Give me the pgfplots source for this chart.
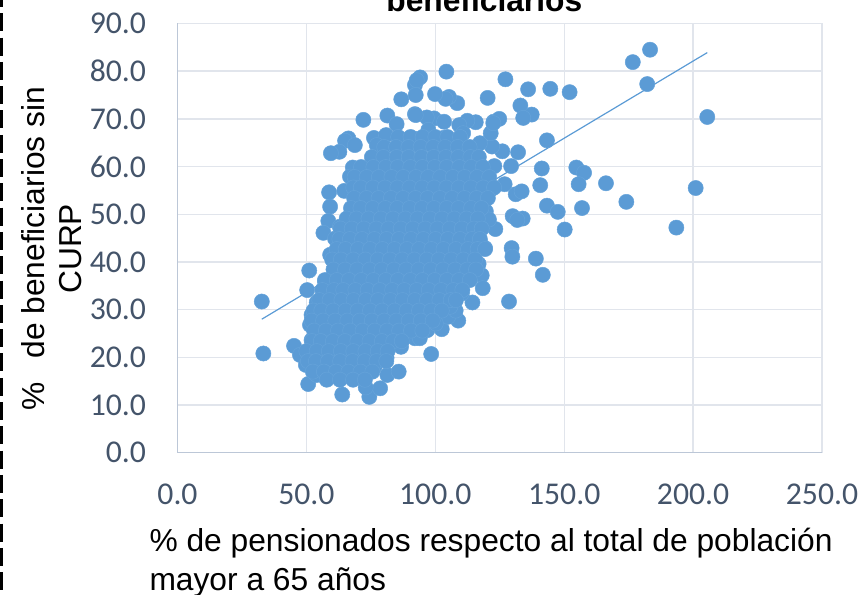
\documentclass[border=0pt]{standalone}
\usepackage{pgfplots}
\pgfplotsset{compat=1.18}
\usepackage{fontspec}
\setmainfont{Liberation Sans}
\newfontfamily\tickfont{Carlito}
\definecolor{dotblue}{HTML}{5B9BD5}
\definecolor{dotedge}{HTML}{65A3DA}
\definecolor{gridc}{HTML}{E1E5EC}
\definecolor{axisc}{HTML}{BCC7D7}
\definecolor{tickc}{HTML}{44546A}
\begin{document}
\begin{tikzpicture}[x=1pt,y=1pt]
\useasboundingbox (0,0) rectangle (861,594);
\draw[black,line width=3.4pt,dash pattern=on 18pt off 6.3pt,dash phase=11pt] (1.7,594) -- (1.7,0);
\begin{axis}[
  at={(177.5pt,141.3pt)}, anchor=south west,
  scale only axis, width=644.5pt, height=429.2pt,
  xmin=0,xmax=250,ymin=0,ymax=90,
  xtick={0,50,...,250}, ytick={0,10,...,90},
  axis x line=bottom, axis y line=left,
  axis line style={axisc,line width=1.4pt,-},
  grid=major, major grid style={gridc,line width=1.4pt},
  major tick length=0pt,
  clip=false,
  /pgf/number format/assume math mode=true,
  /pgf/number format/fixed, /pgf/number format/fixed zerofill, /pgf/number format/precision=1,
  ticklabel style={font=\tickfont\fontsize{31.7}{34}\selectfont,text=tickc},
  xticklabel style={yshift=-28pt},
  yticklabel style={xshift=-28pt},
  title={beneficiarios},
  title style={at={(axis description cs:0.476,1)},anchor=base,yshift=5.5pt,
    font=\bfseries\fontsize{31.75}{36}\selectfont},
  xlabel={\% de pensionados respecto al total de población\\mayor a 65 años},
  xlabel style={at={(axis description cs:-0.0489,0)},anchor=north west,align=left,yshift=-71.5pt,
    font=\fontsize{31.75}{39.3}\selectfont},
  ylabel={\%\hspace{24pt}de beneficiarios sin\\CURP},
  ylabel style={at={(axis description cs:-0.1955,0.475)},anchor=center,align=center,
    font=\fontsize{31.75}{37}\selectfont},
]
% trend line
\addplot[dotblue,line width=1.2pt] coordinates {(32.7,28)(205.5,83.9)};
% scatter: single outliers read off the picture, then the solid core row by row
% (the points in the core overlap too much to read one by one, positions there are estimates)
\addplot[only marks,mark=*,mark size=7.6pt,
  mark options={fill=dotblue,draw=dotedge,line width=0.5pt}] coordinates {
 (183.3,84.5)(176.6,81.9)(182.2,77.3)(205.5,70.4)(104.3,79.9)(127.2,78.3)(136,76.2)(144.6,76.3)
 (152.1,75.6)(120.3,74.4)(133,72.8)(137.4,70.9)(134.1,70.2)(143.3,65.5)(132.1,63)(129.4,60.1)
 (141.3,59.6)(154.7,59.8)(157.7,58.7)(155.6,56.3)(166.2,56.5)(140.7,56.1)(201,55.5)(174.1,52.6)
 (156.9,51.3)(143.3,51.8)(147.5,50.5)(150.2,46.8)(193.5,47.2)(123.3,46.9)(133.9,49.1)(130,49.6)
 (131.8,48.8)(129.6,42.9)(129.9,41.1)(139,40.7)(141.7,37.3)(128.6,31.7)(131.2,54.2)(133.5,54.8)
 (126.9,56.3)(119.3,53)(122.9,60.1)(126,63.2)(122,64.2)(117.3,64.9)(121.5,67)(122.6,69.4)(124.8,70)
 (115.7,69.3)(112.4,69.6)(108.5,73.3)(105.3,74.6)(104,74.2)(99.9,75.2)(99.5,70.1)(103.4,69.4)
 (118,37.2)(118.4,34.5)(119.3,42.9)(117.3,44.2)(116.6,48.2)(109.3,68.7)(96.7,70.3)(92.1,71)
 (97.3,67.7)(110.8,67)(103,66)(122.5,69.1)
 (94.1,78.7)(92.1,77.1)(92.8,78.1)(92.4,75)(86.8,74.1)(72.1,69.8)(81.4,70.7)(85,68.9)(92.4,70.8)
 (66.3,65.9)(65,65.4)(68.8,64.5)(62.8,63.1)(59.5,62.8)(76.2,66)(80.9,66.6)(77.3,64.5)(87.4,65.6)(91.5,65.9)
 (68,59.8)(66.9,57.9)(69.4,57.2)(58.8,54.6)(59.2,51.6)(64.7,54.9)(58.5,48.6)(56.6,46.1)(61.1,44.9)
 (63,47.4)(59.2,41.5)(51.1,38.2)(50.3,34.1)(57.2,35.9)(32.7,31.7)(33.3,20.8)(45.2,22.4)(47.5,20.5)
 (49.8,18.4)(50.7,14.4)(63.9,12.2)(74.4,11.7)(78.6,13.5)(73,13.7)(81.4,16.3)(85.8,17)(81.1,19.9)(76.6,18.2)
 (86.7,22.2)(98.4,20.7)(102.5,25.9)(108.9,27.7)(105,28.5)(107.9,29.8)(114.4,31.5)(96.9,25.7)(92.1,24)(94,24)
 (51.4,26.8)(52,28.9)(54,31.5)(52,23.6)(57.2,32.7)(55.3,28.9)(60.5,31)(54,16.3)
 (110.3,33.4)(112.2,36.6)(116.8,39.6)(105.8,30.6)(100.2,27.1)(119.6,50.6)(120.8,48.9)(121.6,55.2)
 (85.6,66.2)(90.4,66.2)(95.1,66.2)(100,66.2)(104.7,66.2)(109.6,66.2)
 (80.2,64.1)(84.8,64.1)(89.6,64.1)(94.3,64.1)(99.2,64.1)(103.8,64.1)(108.7,64.1)(113.3,64.1)
 (75.4,62)(79.9,62)(85,62)(89.7,62)(94.6,62)(99.4,62)(104.1,62)(108.9,62)(113.6,62)(116.9,62)
 (71.2,59.9)(76,59.9)(80.8,59.9)(85.4,59.9)(90.3,59.9)(95,59.9)(99.8,59.9)(104.4,59.9)(109.3,59.9)(113.9,59.9)(118.4,59.9)
 (68.7,57.8)(73.4,57.8)(78.1,57.8)(83,57.8)(87.6,57.8)(92.5,57.8)(97.2,57.8)(101.9,57.8)(106.8,57.8)(111.4,57.8)(116.2,57.8)(120.9,57.8)
 (68.2,55.6)(71.1,55.6)(75.8,55.6)(80.5,55.6)(85.3,55.6)(90,55.6)(94.9,55.6)(99.6,55.6)(104.3,55.6)(109.1,55.6)(113.8,55.6)(118.6,55.6)(122.8,55.6)
 (68.5,53.4)(73.3,53.4)(78,53.4)(82.8,53.4)(87.5,53.4)(92.3,53.4)(97,53.4)(101.8,53.4)(106.5,53.4)(111.3,53.4)(116,53.4)(120.4,53.4)
 (67.3,51.3)(71,51.3)(75.7,51.3)(80.6,51.3)(85.2,51.3)(90.1,51.3)(94.8,51.3)(99.5,51.3)(104.4,51.3)(109,51.3)(113.9,51.3)(117.9,51.3)
 (65.6,49.1)(69.4,49.1)(74.1,49.1)(78.9,49.1)(83.6,49.1)(88.4,49.1)(93.1,49.1)(97.9,49.1)(102.6,49.1)(107.4,49.1)(112.1,49.1)(116.5,49.1)
 (63.2,47)(67.6,47)(72.3,47)(77.1,47)(81.8,47)(86.6,47)(91.3,47)(96.1,47)(100.8,47)(105.6,47)(110.3,47)(115,47)(118,47)
 (62.8,44.8)(66.9,44.8)(71.6,44.8)(76.4,44.8)(81.1,44.8)(85.9,44.8)(90.6,44.8)(95.4,44.8)(100.1,44.8)(104.9,44.8)(109.6,44.8)(114.3,44.8)(117.3,44.8)
 (61.8,42.7)(65.2,42.7)(70,42.7)(74.7,42.7)(79.5,42.7)(84.2,42.7)(89,42.7)(93.7,42.7)(98.5,42.7)(103.2,42.7)(108,42.7)(112.7,42.7)(116.4,42.7)(119.3,42.7)
 (60,40.5)(63.4,40.5)(68.2,40.5)(72.9,40.5)(77.7,40.5)(82.4,40.5)(87.2,40.5)(91.9,40.5)(96.7,40.5)(101.4,40.5)(106.2,40.5)(110.9,40.5)(115.4,40.5)
 (60.5,38.4)(65,38.4)(69.7,38.4)(74.5,38.4)(79.2,38.4)(84,38.4)(88.7,38.4)(93.5,38.4)(98.2,38.4)(103,38.4)(107.7,38.4)(112.4,38.4)(115.8,38.4)
 (57.2,36.2)(61.8,36.2)(66.5,36.2)(71.3,36.2)(76,36.2)(80.8,36.2)(85.5,36.2)(90.3,36.2)(95,36.2)(99.8,36.2)(104.5,36.2)(109.2,36.2)(113.4,36.2)
 (56.2,34.1)(60.7,34.1)(64.3,34.1)(69,34.1)(73.8,34.1)(78.5,34.1)(83.3,34.1)(88,34.1)(92.8,34.1)(97.5,34.1)(102.3,34.1)(107,34.1)(110.5,34.1)
 (55,32)(59,32)(63.6,32)(68.3,32)(73.1,32)(77.8,32)(82.6,32)(87.3,32)(92.1,32)(96.8,32)(101.6,32)(106,32)(108,32)
 (52.8,29.8)(55.8,29.8)(60.4,29.8)(65.2,29.8)(69.9,29.8)(74.7,29.8)(79.4,29.8)(84.2,29.8)(88.9,29.8)(93.7,29.8)(98.4,29.8)(102.5,29.8)
 (52,27.7)(56.5,27.7)(61.2,27.7)(65.9,27.7)(70.7,27.7)(75.4,27.7)(80.2,27.7)(84.9,27.7)(89.7,27.7)(94.4,27.7)(99,27.7)
 (53,25.6)(57.6,25.6)(62.3,25.6)(67,25.6)(71.8,25.6)(76.5,25.6)(81.3,25.6)(86,25.6)(90.6,25.6)(95,25.6)
 (52.2,23.4)(55.6,23.4)(60.3,23.4)(65,23.4)(69.8,23.4)(74.5,23.4)(79.3,23.4)(83.7,23.4)(87,23.4)
 (50,21.3)(54,21.3)(58.7,21.3)(63.4,21.3)(68.2,21.3)(72.9,21.3)(77.7,21.3)(81.5,21.3)
 (50.6,19.2)(53.7,19.2)(58.4,19.2)(63.1,19.2)(67.9,19.2)(72.6,19.2)(77.2,19.2)(81,19.2)
 (52.5,17)(56.8,17)(61.5,17)(66.3,17)(71,17)(75.6,17)
 (57.9,15.3)(63,15.3)(68.1,15.3)(72.7,15.3)
};
\end{axis}
\end{tikzpicture}
\end{document}
